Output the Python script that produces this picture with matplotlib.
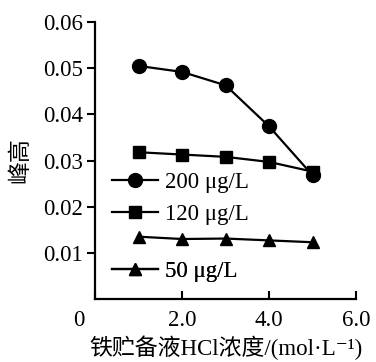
import numpy as np
import matplotlib.pyplot as plt
import matplotlib.transforms as mtransforms
from matplotlib.lines import Line2D

plt.rcParams['font.family'] = ['Liberation Serif', 'Noto Sans CJK SC', 'DejaVu Sans']

conc = [1.0, 2.0, 3.0, 4.0, 5.0]
h200 = [0.0505, 0.0492, 0.0463, 0.0374, 0.0268]
h120 = [0.0318, 0.0313, 0.0308, 0.0297, 0.0276]
h50 = [0.0135, 0.0130, 0.0131, 0.0127, 0.0123]
labels = ['200 \u03bcg/L', '120 \u03bcg/L', '50 \u03bcg/L']

fig = plt.figure(figsize=(3.76, 3.62), dpi=100)
ax = fig.add_axes([0.253, 0.174, 0.694, 0.765])

ax.plot(conc, h200, 'k-o', lw=1.6, ms=10)
ax.plot(conc, h120, 'k-s', lw=1.6, ms=9)
ax.plot(conc, h50, 'k-^', lw=1.6, ms=9)

fs = 16.5
ax.set_xlim(0, 6)
ax.set_ylim(0, 0.06)
ax.set_xticks([0, 2, 4, 6])
ax.set_xticklabels(['0', '2.0', '4.0', '6.0'])
ax.set_yticks([0.01, 0.02, 0.03, 0.04, 0.05, 0.06])
ax.set_yticklabels(['0.01', '0.02', '0.03', '0.04', '0.05', '0.06'])
ax.tick_params(axis='x', direction='in', length=6, width=1.5, labelsize=fs, pad=8)
ax.tick_params(axis='y', direction='out', length=6, width=1.5, labelsize=fs, pad=3)
# shift the origin label left, under the y tick labels
lab0 = ax.get_xticklabels()[0]
lab0.set_transform(lab0.get_transform() +
                   mtransforms.ScaledTranslation(-12 / 72, 0, fig.dpi_scale_trans))
for s in ['top', 'right']:
    ax.spines[s].set_visible(False)
for s in ['left', 'bottom']:
    ax.spines[s].set_linewidth(1.6)

ax.set_ylabel('峰高', fontsize=fs, labelpad=8)
ax.set_xlabel('铁贮备液HCl浓度/(mol·L\u207b\u00b9)', fontsize=fs, labelpad=3)

markers = ['o', 's', '^']
sizes = [10, 9, 9]
ypos = [0.42, 0.305, 0.10]
for m, ms, lab, yp in zip(markers, sizes, labels, ypos):
    h = Line2D([], [], color='k', marker=m, ms=ms, lw=1.6)
    leg = ax.legend([h], [lab], loc='center left', bbox_to_anchor=(0.065, yp),
                    frameon=False, fontsize=fs, handlelength=2.0, handletextpad=0.3,
                    borderpad=0, borderaxespad=0)
    ax.add_artist(leg)

fig.savefig('out.png', dpi=100)
